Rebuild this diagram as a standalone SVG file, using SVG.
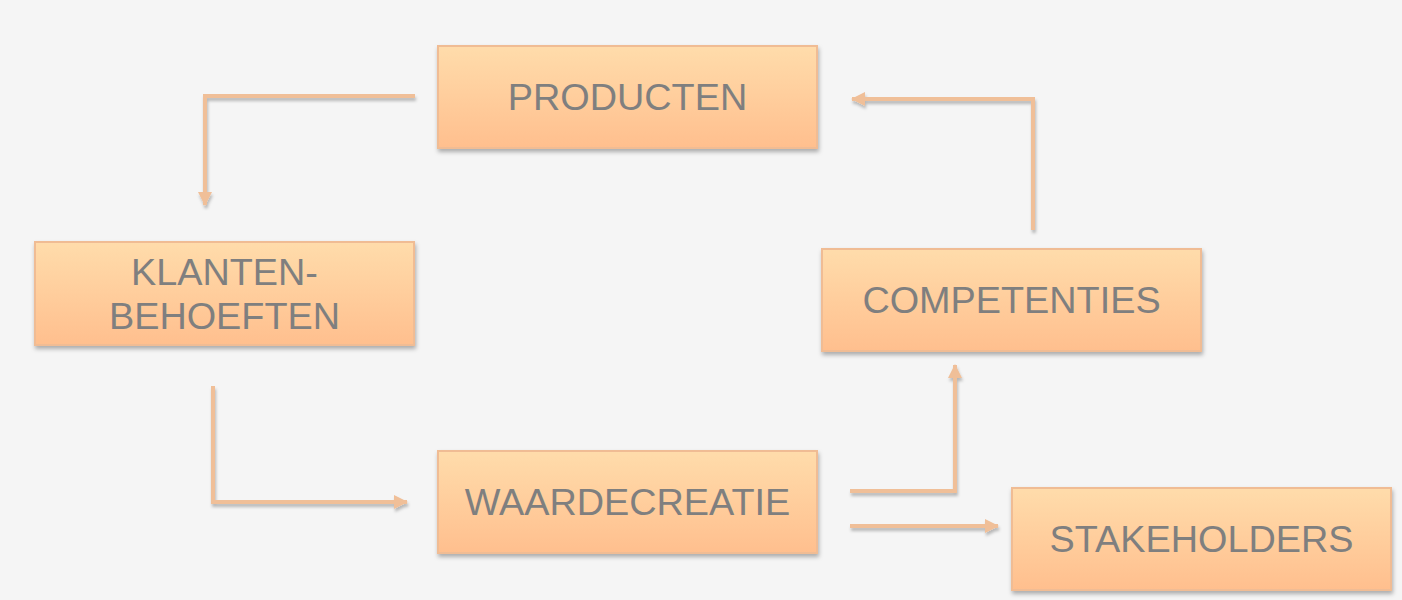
<svg xmlns="http://www.w3.org/2000/svg" width="1402" height="600" viewBox="0 0 1402 600">
<defs>
<linearGradient id="g" x1="0" y1="0" x2="0" y2="1">
<stop offset="0" stop-color="#ffdcab"/>
<stop offset="1" stop-color="#ffbf8e"/>
</linearGradient>
<filter id="sh" x="-10%" y="-20%" width="120%" height="150%">
<feDropShadow dx="1" dy="3" stdDeviation="2" flood-color="#000" flood-opacity="0.3"/>
</filter>
<filter id="lsh" filterUnits="userSpaceOnUse" x="0" y="0" width="1402" height="600">
<feDropShadow dx="1" dy="3" stdDeviation="1.5" flood-color="#000" flood-opacity="0.25"/>
</filter>
<marker id="ah" markerUnits="userSpaceOnUse" markerWidth="14" markerHeight="14" viewBox="0 0 14 14" refX="13" refY="7" orient="auto">
<path d="M0,0 L14,7 L0,14 Z" fill="#f0bf98"/>
</marker>
</defs>
<style>
.box{fill:url(#g);stroke:#f0bc94;stroke-width:2;filter:url(#sh)}
.lbl{font-family:"Liberation Sans",Arial,sans-serif;font-size:37.8px;fill:#7f7f7f;text-anchor:middle}
.con{fill:none;stroke:#f0bf98;stroke-width:4;marker-end:url(#ah)}
</style>
<rect width="1402" height="600" fill="#f5f5f5"/>
<g id="connectors" filter="url(#lsh)">
<path class="con" d="M415,96 L205,96 L205,205"/>
<path class="con" d="M213,386 L213,502 L407,502"/>
<path class="con" d="M850,491 L955,491 L955,365"/>
<path class="con" d="M850,526 L998,526"/>
<path class="con" d="M1033,230 L1033,99 L852,99"/>
</g>
<g id="producten">
<rect class="box" x="438" y="46" width="379" height="102"/>
<text class="lbl" x="627.5" y="110">PRODUCTEN</text>
</g>
<g id="klantenbehoeften">
<rect class="box" x="35" y="242" width="379" height="103"/>
<text class="lbl" x="224.5" y="285">KLANTEN-</text>
<text class="lbl" x="224.5" y="329">BEHOEFTEN</text>
</g>
<g id="competenties">
<rect class="box" x="822" y="249" width="379" height="102"/>
<text class="lbl" x="1011.5" y="313">COMPETENTIES</text>
</g>
<g id="waardecreatie">
<rect class="box" x="438" y="451" width="379" height="102"/>
<text class="lbl" x="627.5" y="515">WAARDECREATIE</text>
</g>
<g id="stakeholders">
<rect class="box" x="1012" y="488" width="379" height="102"/>
<text class="lbl" x="1201.5" y="552">STAKEHOLDERS</text>
</g>
</svg>
